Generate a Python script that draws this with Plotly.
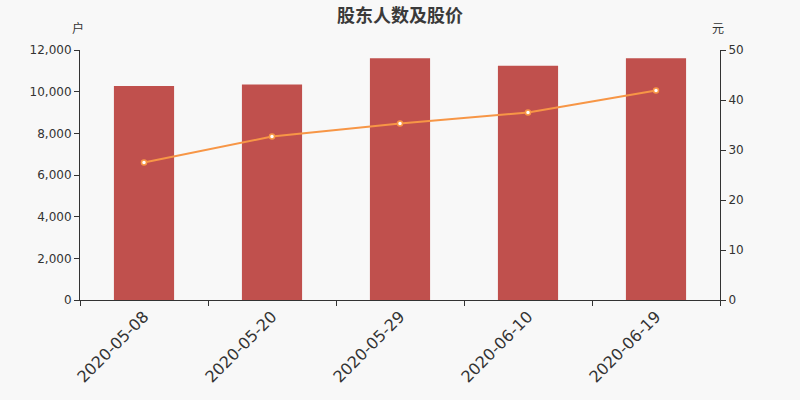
import plotly.graph_objects as go

dates = ["2020-05-08", "2020-05-20", "2020-05-29", "2020-06-10", "2020-06-19"]
holders = [10270, 10350, 11610, 11240, 11600]
price = [27.5, 32.7, 35.3, 37.5, 41.9]

fig = go.Figure()
fig.add_trace(go.Bar(x=dates, y=holders, marker=dict(color="#c0504d", line=dict(width=0)),
                     yaxis="y"))
fig.add_trace(go.Scatter(x=dates, y=price, yaxis="y2", mode="lines+markers",
                         line=dict(color="#f79646", width=2),
                         marker=dict(color="white", size=5,
                                     line=dict(color="#f79646", width=1.5))))

axis_font = dict(family="DejaVu Sans", size=12, color="#333")
label_font = dict(family="Noto Sans CJK SC", size=12, color="#333")
fig.update_layout(
    width=800, height=400,
    margin=dict(l=80, r=80, t=50, b=100),
    paper_bgcolor="#f8f8f8", plot_bgcolor="#f8f8f8",
    showlegend=False, bargap=0.53,
    title=dict(text="<b>股东人数及股价</b>", x=0.5, y=0.962, xanchor="center", yanchor="middle",
               font=dict(family="Noto Sans CJK SC", size=18, color="#3a3a3a")),
    xaxis=dict(type="category", showline=True, linecolor="#333", linewidth=1,
               ticks="outside", tickson="boundaries", ticklen=5, tickcolor="#333",
               tickangle=-45, tickfont=dict(family="DejaVu Sans", size=16, color="#333"),
               showgrid=False),
    yaxis=dict(range=[0, 12000], dtick=2000, tickformat=",", showline=True,
               linecolor="#333", ticks="outside", ticklen=5, tickcolor="#333",
               showgrid=False, zeroline=False, tickfont=axis_font),
    yaxis2=dict(range=[0, 50], dtick=10, overlaying="y", side="right", showline=True,
                linecolor="#333", ticks="outside", ticklen=5, tickcolor="#333",
                showgrid=False, zeroline=False, tickfont=axis_font),
    annotations=[
        dict(text="户", x=-0.003, y=1.09, xref="paper", yref="paper", showarrow=False,
             xanchor="center", yanchor="middle", font=label_font),
        dict(text="元", x=0.997, y=1.09, xref="paper", yref="paper", showarrow=False,
             xanchor="center", yanchor="middle", font=label_font),
    ],
)

fig.write_html("out.html", config={"displayModeBar": False},
               post_script="document.body.style.margin='0px';")
